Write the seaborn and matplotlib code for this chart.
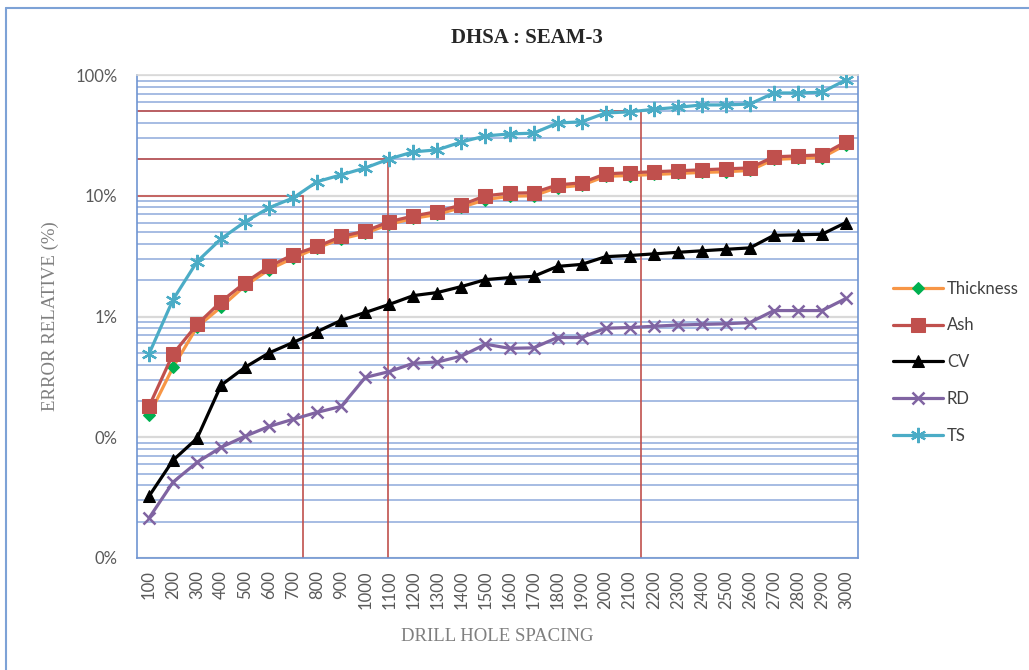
import numpy as np
import pandas as pd
import matplotlib
matplotlib.use('Agg')
import matplotlib.pyplot as plt
from matplotlib.ticker import LogLocator, FuncFormatter, NullFormatter
from matplotlib.lines import Line2D
import seaborn as sns

# Dữ liệu (đơn vị %)
spacing = [100, 200, 300, 400, 500, 600, 700, 800, 900, 1000,
           1100, 1200, 1300, 1400, 1500, 1600, 1700, 1800, 1900, 2000,
           2100, 2200, 2300, 2400, 2500, 2600, 2700, 2800, 2900, 3000]
thickness = [0.152, 0.38, 0.82, 1.2, 1.8, 2.45, 3.05, 3.7, 4.4, 4.9,
             5.8, 6.5, 7.0, 8.0, 9.3, 9.9, 10.0, 11.7, 12.2, 14.5,
             14.7, 15.0, 15.3, 15.6, 15.8, 16.2, 20.0, 20.4, 20.7, 26.5]
ash = [0.18, 0.49, 0.86, 1.33, 1.91, 2.6, 3.25, 3.8, 4.6, 5.1,
       6.1, 6.8, 7.4, 8.4, 10.0, 10.5, 10.6, 12.3, 12.8, 15.2,
       15.5, 15.8, 16.1, 16.4, 16.7, 17.0, 21.0, 21.4, 21.8, 28.0]
cv = [0.0325, 0.0645, 0.098, 0.27, 0.38, 0.50, 0.61, 0.75, 0.93, 1.08,
      1.26, 1.49, 1.58, 1.77, 2.02, 2.1, 2.15, 2.6, 2.7, 3.13,
      3.2, 3.3, 3.4, 3.5, 3.6, 3.7, 4.7, 4.75, 4.8, 6.0]
rd = [0.0214, 0.0425, 0.062, 0.0826, 0.102, 0.123, 0.141, 0.161, 0.18, 0.313,
      0.35, 0.41, 0.42, 0.47, 0.59, 0.545, 0.55, 0.67, 0.67, 0.80,
      0.81, 0.83, 0.85, 0.86, 0.87, 0.89, 1.12, 1.12, 1.12, 1.41]
ts = [0.49, 1.38, 2.85, 4.4, 6.1, 7.96, 9.6, 13.1, 14.9, 17.0,
      20.2, 23.1, 24.0, 27.9, 31.3, 32.5, 33.0, 40.0, 41.0, 48.5,
      49.5, 52.0, 54.0, 56.5, 56.5, 57.5, 71.0, 71.0, 72.0, 91.0]

# Đường tham chiếu màu đỏ: (mức %, vị trí trên trục x theo chỉ số)
ref_levels = [10, 20, 50]
ref_pos = [6.42, 9.93, 20.48]

df = pd.DataFrame({'pos': np.arange(len(spacing)), 'Thickness': thickness, 'Ash': ash,
                   'CV': cv, 'RD': rd, 'TS': ts})

sns.set_style('white')
plt.rcParams['font.family'] = ['Lato', 'DejaVu Sans']

fig = plt.figure(figsize=(10.29, 6.7), dpi=100)
ax = fig.add_axes([137 / 1029, 1 - 558 / 670, (858 - 137) / 1029, (558 - 75) / 670])

styles = {
    'Thickness': dict(color='#F79646', marker='D', markersize=6, markerfacecolor='#00B050',
                      markeredgecolor='#00B050'),
    'Ash': dict(color='#C0504D', marker='s', markersize=10, markerfacecolor='#C0504D',
                markeredgecolor='#C0504D'),
    'CV': dict(color='#000000', marker='^', markersize=9, markerfacecolor='#000000',
               markeredgecolor='#000000'),
    'RD': dict(color='#8064A2', marker='x', markersize=9, markeredgewidth=1.8,
               markeredgecolor='#8064A2'),
    'TS': dict(color='#4BACC6', marker=(6, 2, 0), markersize=11, markeredgewidth=1.6,
               markeredgecolor='#4BACC6'),
}

# Lưới
ax.set_yscale('log')
ax.set_ylim(0.01, 100)
ax.set_xlim(-0.5, len(spacing) - 0.5)
ax.yaxis.set_major_locator(LogLocator(base=10, numticks=10))
ax.yaxis.set_minor_locator(LogLocator(base=10, subs=np.arange(2, 10), numticks=20))
ax.yaxis.set_minor_formatter(NullFormatter())
ax.yaxis.set_major_formatter(FuncFormatter(lambda v, p: f'{v:.0f}%'))
ax.grid(which='minor', axis='y', color='#8EAADB', lw=1.1)
ax.grid(which='major', axis='y', color='#D9D9D9', lw=1.6)
ax.grid(which='both', axis='x', visible=False)
ax.set_axisbelow(True)

# Đường tham chiếu
for lvl, p in zip(ref_levels, ref_pos):
    ax.plot([-0.5, p], [lvl, lvl], color='#C0504D', lw=1.2, zorder=1.5)
    ax.plot([p, p], [lvl, 0.01], color='#C0504D', lw=1.2, zorder=1.5)

for name in ['Thickness', 'Ash', 'CV', 'RD', 'TS']:
    sns.lineplot(data=df, x='pos', y=name, ax=ax, lw=2.3, label=name, zorder=3, **styles[name])

ax.set_xticks(df['pos'])
ax.set_xticklabels([str(s) for s in spacing], rotation=90, color='#595959', fontsize=12)
ax.tick_params(axis='y', colors='#595959', labelsize=12, length=0, pad=14)
ax.tick_params(axis='x', length=0, pad=9)

for s in ax.spines.values():
    s.set_color('#6F95D2')
    s.set_linewidth(1.2)
ax.spines['top'].set_color('#D9D9D9')

ax.set_xlabel('DRILL HOLE SPACING', family='Liberation Serif', fontsize=13.5, color='#7F7F7F', labelpad=14)
ax.set_ylabel('ERROR RELATIVE (%)', family='Liberation Serif', fontsize=13.5, color='#7F7F7F', labelpad=12)
fig.text(527 / 1029, 1 - 38 / 670, 'DHSA : SEAM-3', family='Liberation Serif', fontweight='bold',
         fontsize=15, color='#262626', ha='center', va='center')

leg = ax.legend(loc='upper left', bbox_to_anchor=(886 / 1029, 1 - 274 / 670),
                bbox_transform=fig.transFigure, frameon=False, fontsize=12,
                handlelength=3.0, labelspacing=1.25, handletextpad=0.25, borderaxespad=0)
for t in leg.get_texts():
    t.set_color('#404040')

# Khung ngoài
fig.add_artist(Line2D([6 / 1029, 6 / 1029], [0, 1 - 8 / 670], transform=fig.transFigure,
                      color='#7DA2D6', lw=1.5))
fig.add_artist(Line2D([6 / 1029, 1], [1 - 8 / 670, 1 - 8 / 670], transform=fig.transFigure,
                      color='#7DA2D6', lw=1.5))

fig.savefig('out.png', dpi=100)
